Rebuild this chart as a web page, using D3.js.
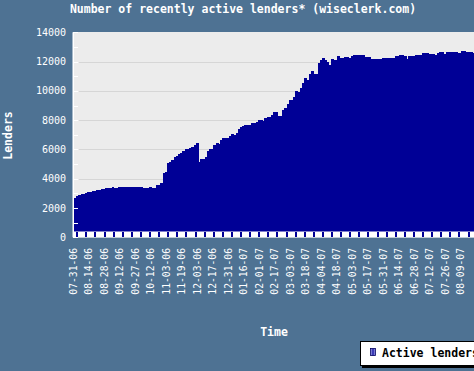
<!DOCTYPE html>
<html><head><meta charset="utf-8">
<script src="https://cdn.jsdelivr.net/npm/d3@7"></script>
<style>html,body{margin:0;padding:0;background:#4e7293;overflow:hidden}</style>
</head><body>
<svg id="c" width="474" height="371"></svg>
<script>
const title = "Number of recently active lenders* (wiseclerk.com)";
const yTitle = "Lenders";
const xTitle = "Time";
const seriesName = "Active lenders";
const tickLabels = ["07-31-06","08-14-06","08-28-06","09-12-06","09-27-06","10-12-06","11-03-06","11-19-06","12-03-06","12-17-06","12-31-06","01-16-07","02-01-07","02-17-07","03-03-07","03-18-07","04-04-07","04-18-07","05-03-07","05-17-07","05-31-07","06-14-07","06-28-07","07-12-07","07-26-07","08-09-07"];
const labelEvery = 7;
const yTicks = [0,2000,4000,6000,8000,10000,12000,14000];
const lenders = [
2700,2800,2890,2980,2980,3050,3115,3115,3160,3160,
3210,3210,3280,3280,3350,3360,3360,3440,3400,3400,
3460,3420,3440,3440,3440,3440,3440,3440,3440,3440,
3440,3400,3400,3400,3460,3350,3400,3550,3550,3730,
4410,4480,5050,5140,5280,5450,5550,5690,5780,5900,
6010,6010,6120,6190,6280,6440,5160,5370,5370,5480,
5910,6050,6050,6270,6440,6400,6620,6760,6800,6800,
6950,7070,7020,7150,7400,7510,7600,7690,7690,7650,
7830,7830,7900,8010,8010,7950,8130,8240,8240,8350,
8540,8540,8310,8310,8700,8810,9100,9380,9380,9600,
9990,9950,10220,10560,10860,10740,11150,11360,11150,11150,
11880,12110,12230,12100,11970,11770,12200,12110,12110,12380,
12230,12230,12300,12300,12270,12380,12470,12470,12470,12470,
12420,12340,12340,12340,12200,12160,12160,12160,12160,12270,
12270,12270,12270,12270,12270,12360,12360,12470,12470,12380,
12200,12380,12380,12380,12470,12470,12470,12570,12570,12570,
12500,12500,12500,12430,12570,12660,12660,12520,12680,12680,
12680,12680,12680,12620,12620,12700,12700,12660,12660,12660,
12570,12570];

(function () {
const W = 474, H = 371;
const bg = "#4e7293", plotBg = "#ececec", fillC = "#000096";
const svg = d3.select("#c");
const N = lenders.length;
const pLeft = 74, step = 2.214, pTop = 32.3, pBottom = 237.3;
const x = d3.scaleLinear().domain([0, N]).range([pLeft, pLeft + N * step]);
const y = d3.scaleLinear().domain([0, 14000]).range([pBottom, pTop]);
const pRight = x(N) + 10;

svg.append("rect").attr("width", W).attr("height", H).attr("fill", bg);
svg.append("rect").attr("x", pLeft - 1).attr("y", Math.round(pTop)).attr("width", pRight - pLeft + 1).attr("height", pBottom - Math.round(pTop)).attr("fill", plotBg);

// grid
svg.append("g").selectAll("line").data(yTicks.filter(d => d > 0 && d < 14000)).join("line")
  .attr("x1", pLeft + 5).attr("x2", pRight)
  .attr("y1", d => Math.round(y(d)) + 0.5).attr("y2", d => Math.round(y(d)) + 0.5)
  .attr("stroke", "#d6d6d6").attr("stroke-width", 1);

// bars (step area)
svg.append("g").attr("shape-rendering", "crispEdges").selectAll("rect").data(lenders).join("rect")
  .attr("x", (d, i) => x(i)).attr("width", (d, i) => x(i + 1) - x(i) + 0.6)
  .attr("y", d => y(d)).attr("height", d => pBottom - y(d))
  .attr("fill", fillC);

// bottom white band with minor ticks
svg.append("rect").attr("x", pLeft - 1).attr("y", 231.5).attr("width", pRight - pLeft + 1).attr("height", 6)
  .attr("fill", "#ffffff");
const minorTicks = d3.range(1.49, N, 4.11);
svg.append("g").attr("shape-rendering", "crispEdges").selectAll("rect").data(minorTicks).join("rect")
  .attr("x", d => x(d) - 1).attr("width", 2).attr("y", 231.5).attr("height", 5)
  .attr("fill", fillC);

// left axis line + ticks
svg.append("rect").attr("x", pLeft - 1.5).attr("y", pTop).attr("width", 1.5).attr("height", pBottom - pTop).attr("fill", "#ffffff");
const minorY = d3.range(0, 14001, 1000);
svg.append("g").selectAll("line").data(minorY).join("line")
  .attr("x1", pLeft - 1).attr("x2", pLeft + 4)
  .attr("y1", d => Math.round(y(d)) + 0.5).attr("y2", d => Math.round(y(d)) + 0.5)
  .attr("stroke", "#ffffff").attr("stroke-width", 1);

// y labels
svg.append("g").selectAll("text").data(yTicks).join("text")
  .attr("x", 66).attr("y", d => y(d)).attr("dy", "0.36em")
  .attr("text-anchor", "end").attr("fill", "#ffffff")
  .attr("font-family", "DejaVu Sans Mono").attr("font-size", "10px")
  .text(d => d);

// x labels
svg.append("g").selectAll("text").data(tickLabels).join("text")
  .attr("transform", (d, i) => `translate(${x(i * labelEvery) - 0.7},248) rotate(-90)`)
  .attr("dy", "0.36em").attr("text-anchor", "end").attr("fill", "#ffffff")
  .attr("font-family", "DejaVu Sans Mono").attr("font-size", "9.7px")
  .text(d => d);

// title
svg.append("text").attr("x", 243).attr("y", 13).attr("text-anchor", "middle")
  .attr("fill", "#ffffff").attr("font-family", "DejaVu Sans Mono").attr("font-weight", "bold")
  .attr("font-size", "11.5px").text(title);

// axis titles
svg.append("text").attr("transform", "translate(7.5,135.5) rotate(-90)").attr("dy", "0.36em")
  .attr("text-anchor", "middle").attr("fill", "#ffffff").attr("font-family", "DejaVu Sans Mono")
  .attr("font-weight", "bold").attr("font-size", "11.5px").text(yTitle);
svg.append("text").attr("x", 274).attr("y", 332).attr("dy", "0.36em")
  .attr("text-anchor", "middle").attr("fill", "#ffffff").attr("font-family", "DejaVu Sans Mono")
  .attr("font-weight", "bold").attr("font-size", "11.5px").text(xTitle);

// legend
const defs = svg.append("defs");
const g = defs.append("linearGradient").attr("id", "lg").attr("x1", "0").attr("x2", "1");
g.append("stop").attr("offset", "0").attr("stop-color", "#b8b8f0");
g.append("stop").attr("offset", "0.5").attr("stop-color", "#1c1ca8");
g.append("stop").attr("offset", "1").attr("stop-color", "#b8b8f0");
svg.append("rect").attr("x", 362).attr("y", 343).attr("width", 130).attr("height", 25).attr("fill", "#000000");
svg.append("rect").attr("x", 360.5).attr("y", 341.5).attr("width", 130).attr("height", 24)
  .attr("fill", "#ffffff").attr("stroke", "#000000").attr("stroke-width", 1);
svg.append("rect").attr("x", 370.5).attr("y", 348.5).attr("width", 5).attr("height", 7)
  .attr("fill", "url(#lg)").attr("stroke", "#000060").attr("stroke-width", 0.8);
svg.append("text").attr("x", 382).attr("y", 357).attr("fill", "#000000")
  .attr("font-family", "DejaVu Sans Mono").attr("font-weight", "bold").attr("font-size", "11.5px")
  .text(seriesName);
})();
</script>
</body></html>
